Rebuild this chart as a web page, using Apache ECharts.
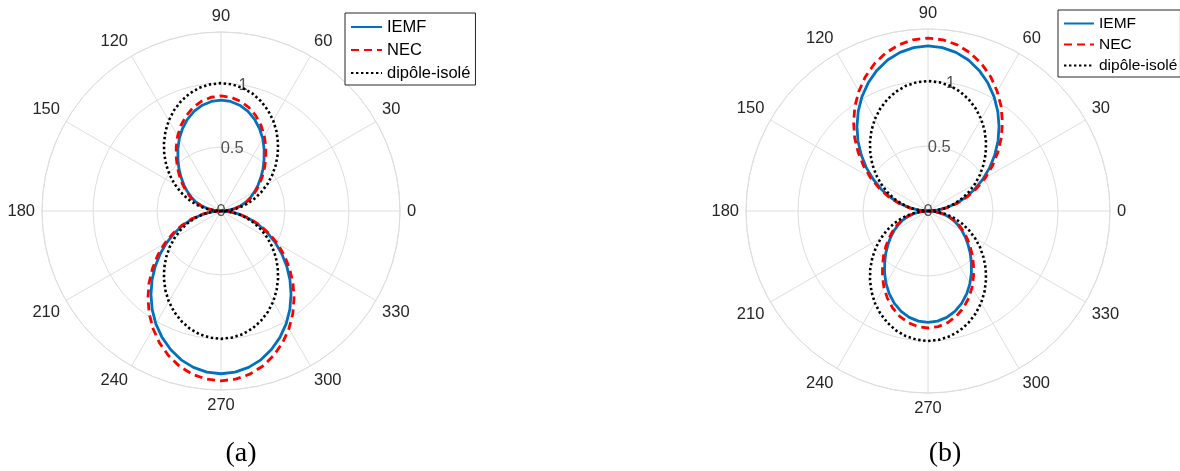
<!DOCTYPE html>
<html><head><meta charset="utf-8">
<script src="https://cdn.jsdelivr.net/npm/echarts@6/dist/echarts.min.js"></script>
<style>html,body{margin:0;padding:0;background:#fff}#c{width:1180px;height:471px}</style>
</head><body><div id="c"></div>
<script>
// angle (degrees) of every sample
const angles = [0,5,10,15,20,25,30,35,40,45,50,55,60,65,70,75,80,85,90,95,100,105,110,115,120,125,130,135,140,145,150,155,160,165,170,175,180,
185,190,195,200,205,210,215,220,225,230,235,240,245,250,255,260,265,270,275,280,285,290,295,300,305,310,315,320,325,330,335,340,345,350,355,360];

// (a)
const aIEMF = [0,.052,.108,.160,.211,.257,.304,.354,.407,.465,.524,.588,.653,.712,.765,.808,.840,.860,.867,.860,.840,.808,.765,.712,.653,.588,.524,.465,.407,.354,.304,.257,.211,.160,.108,.052,0,
.067,.144,.225,.310,.397,.487,.579,.671,.763,.852,.939,1.019,1.091,1.153,1.205,1.242,1.265,1.273,1.265,1.242,1.205,1.153,1.091,1.019,.939,.852,.763,.671,.579,.487,.397,.310,.225,.144,.067,0];
const aNEC = [0,.054,.112,.167,.219,.267,.316,.368,.423,.483,.544,.611,.678,.740,.794,.839,.872,.893,.900,.893,.872,.839,.794,.740,.678,.611,.544,.483,.423,.368,.316,.267,.219,.167,.112,.054,0,
.070,.150,.235,.323,.415,.509,.604,.700,.796,.889,.979,1.063,1.138,1.203,1.257,1.296,1.320,1.328,1.320,1.296,1.257,1.203,1.138,1.063,.979,.889,.796,.700,.604,.509,.415,.323,.235,.150,.070,0];
// isolated dipole (same in both panels)
const dipole = [0,.069,.137,.207,.277,.347,.418,.489,.559,.628,.694,.758,.817,.869,.914,.951,.978,.994,1.000,.994,.978,.951,.914,.869,.817,.758,.694,.628,.559,.489,.418,.347,.277,.207,.137,.069,0,
.069,.137,.207,.277,.347,.418,.489,.559,.628,.694,.758,.817,.869,.914,.951,.978,.994,1.000,.994,.978,.951,.914,.869,.817,.758,.694,.628,.559,.489,.418,.347,.277,.207,.137,.069,0];

// (b)
const bIEMF = [0,.067,.143,.224,.309,.397,.486,.578,.670,.762,.850,.936,1.016,1.088,1.151,1.202,1.239,1.262,1.270,1.262,1.239,1.202,1.151,1.088,1.016,.936,.850,.762,.670,.578,.486,.397,.309,.224,.143,.067,0,
.052,.107,.159,.209,.254,.301,.350,.402,.460,.518,.582,.645,.704,.756,.799,.831,.850,.857,.850,.831,.799,.756,.704,.645,.582,.518,.460,.402,.350,.301,.254,.209,.159,.107,.052,0];
const bNEC = [0,.070,.150,.235,.324,.415,.509,.605,.701,.798,.890,.981,1.064,1.140,1.205,1.258,1.298,1.322,1.330,1.322,1.298,1.258,1.205,1.140,1.064,.981,.890,.798,.701,.605,.509,.415,.324,.235,.150,.070,0,
.054,.112,.167,.219,.267,.316,.368,.423,.483,.544,.611,.678,.740,.794,.839,.872,.893,.900,.893,.872,.839,.794,.740,.678,.611,.544,.483,.423,.368,.316,.267,.219,.167,.112,.054,0];

const seriesNames = ['IEMF', 'NEC', 'dipôle-isolé'];
const rTicks = [0, 0.5, 1];
const rTickLabels = ['0', '0.5', '1'];
const rTickAngle = 80;
const captions = ['(a)', '(b)'];

const GRID = '#dedede';
const TXT = '#262626';
const FONT = 'Liberation Sans, Arial, Helvetica, sans-serif';

function pairs(vals) { return vals.map((v, i) => [v, angles[i]]); }

function angleAxis(idx) {
  return {
    polarIndex: idx, type: 'value', min: 0, max: 360, interval: 30,
    startAngle: 0, clockwise: false,
    axisLine: { lineStyle: { color: GRID, width: 1 } },
    axisTick: { show: false },
    axisLabel: { margin: 7, fontSize: 16.5, color: TXT, fontFamily: FONT,
      formatter: v => (v === 360 ? '' : String(v)) },
    splitLine: { lineStyle: { color: GRID, width: 1 } }
  };
}
function radiusAxis(idx) {
  return {
    polarIndex: idx, type: 'value', min: 0, max: 1.4, interval: 0.5,
    axisLine: { show: false }, axisTick: { show: false }, axisLabel: { show: false },
    splitLine: { lineStyle: { color: GRID, width: 1 } }
  };
}
function tickSeries(idx) {
  return {
    type: 'scatter', coordinateSystem: 'polar', polarIndex: idx, z: 1,
    symbolSize: 0, silent: true,
    data: rTicks.map((r, i) => ({ value: [r, rTickAngle], name: rTickLabels[i] })),
    label: { show: true, position: 'inside', formatter: p => p.name,
      fontSize: 16.5, color: TXT, fontFamily: FONT }
  };
}
function lineSeries(idx, name, vals, color, type, width) {
  return {
    type: 'line', name: name, coordinateSystem: 'polar', polarIndex: idx, z: 3,
    data: pairs(vals), symbol: 'none', showSymbol: false, smooth: false, silent: true,
    lineStyle: { color: color, width: width, type: type, cap: 'butt' },
    itemStyle: { color: color }
  };
}
function legend(left, top, fs, lh, iw, gap, pad) {
  return {
    orient: 'vertical', left: left, top: top, data: seriesNames,
    backgroundColor: '#fff', borderColor: TXT, borderWidth: 1, borderRadius: 0,
    padding: pad, itemGap: gap, itemWidth: iw, itemHeight: 14,
    itemStyle: { opacity: 0 },
    textStyle: { fontSize: fs, lineHeight: lh, color: '#000', fontFamily: FONT },
    selectedMode: false
  };
}

const chart = echarts.init(document.getElementById('c'), null, { renderer: 'canvas' });
chart.setOption({
  animation: false,
  backgroundColor: '#fff',
  polar: [
    { center: [221, 211], radius: 179 },
    { center: [928, 211], radius: 182 }
  ],
  angleAxis: [angleAxis(0), angleAxis(1)],
  radiusAxis: [radiusAxis(0), radiusAxis(1)],
  legend: [
    legend(345, 13, 16.5, 18, 31, 5, [5, 5, 3, 5]),
    legend(1058, 10, 15.5, 17, 30, 4, [5, 3, 3, 5])
  ],
  graphic: [
    { type: 'text', x: 241, y: 454, style: { text: captions[0], fill: '#000',
      font: '28px "Liberation Serif", "DejaVu Serif", serif', textAlign: 'center', textVerticalAlign: 'middle' } },
    { type: 'text', x: 945, y: 454, style: { text: captions[1], fill: '#000',
      font: '28px "Liberation Serif", "DejaVu Serif", serif', textAlign: 'center', textVerticalAlign: 'middle' } }
  ],
  series: [
    tickSeries(0), tickSeries(1),
    lineSeries(0, seriesNames[0], aIEMF, '#0072BD', 'solid', 2.8),
    lineSeries(0, seriesNames[1], aNEC, '#FF0000', [8, 5], 2.8),
    lineSeries(0, seriesNames[2], dipole, '#000000', [2.4, 2.6], 2.6),
    lineSeries(1, seriesNames[0], bIEMF, '#0072BD', 'solid', 2.8),
    lineSeries(1, seriesNames[1], bNEC, '#FF0000', [8, 5], 2.8),
    lineSeries(1, seriesNames[2], dipole, '#000000', [2.4, 2.6], 2.6)
  ]
});
</script>
</body></html>
